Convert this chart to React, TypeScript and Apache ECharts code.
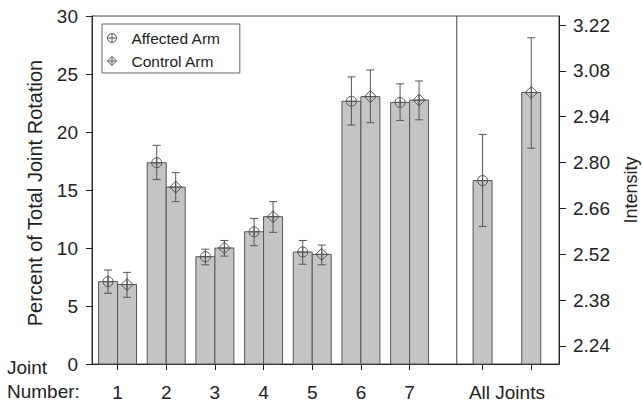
import React, { useEffect, useRef } from "react";
import * as echarts from "echarts";

// ---- data ----
const joints = ["1", "2", "3", "4", "5", "6", "7"];
const affectedMean = [7.1, 17.35, 9.25, 11.4, 9.65, 22.65, 22.55];
const affectedLow = [6.1, 15.9, 8.55, 10.2, 8.6, 20.6, 21.0];
const affectedHigh = [8.1, 18.85, 9.9, 12.55, 10.65, 24.75, 24.15];
const controlMean = [6.85, 15.25, 10.0, 12.7, 9.45, 23.05, 22.75];
const controlLow = [5.75, 14.0, 9.3, 11.35, 8.55, 20.8, 21.05];
const controlHigh = [7.9, 16.5, 10.65, 14.0, 10.25, 25.35, 24.4];

const allLabel = "All Joints";
const allAffected = [2.745, 2.605, 2.886]; // mean, low, high (Intensity)
const allControl = [3.014, 2.844, 3.181];

const leftTicks = [0, 5, 10, 15, 20, 25, 30];
const rightTicks = [2.24, 2.38, 2.52, 2.66, 2.8, 2.94, 3.08, 3.22];

const FONT = '"Liberation Sans", Arial, Helvetica, sans-serif';
const BAR_FILL = "#c4c4c4";
const EDGE = "#555";

const RIGHT_MIN = 2.185;
const RIGHT_MAX = 3.2475;
const BAR_W = 0.39;
const ALL_A_X = 8.5;
const ALL_C_X = 9.5;
const SEP_X = 7.97;

function makeRender(offset: number, marker: "circle" | "diamond", base: number) {
  return (params: any, api: any) => {
    const x = api.value(0) + offset;
    const v = api.value(1);
    const lo = api.value(2);
    const hi = api.value(3);
    const w = api.size([BAR_W, 0])[0];
    const top = api.coord([x, v]);
    const bot = api.coord([x, base]);
    const pLo = api.coord([x, lo]);
    const pHi = api.coord([x, hi]);
    const cx = top[0];
    const cy = top[1];
    const lineStyle = { stroke: EDGE, lineWidth: 1, fill: "none" };
    const children: any[] = [
      {
        type: "rect",
        shape: { x: cx - w / 2, y: cy, width: w, height: bot[1] - cy },
        style: { fill: BAR_FILL, stroke: EDGE, lineWidth: 1 },
      },
      { type: "line", shape: { x1: cx, y1: pLo[1], x2: cx, y2: pHi[1] }, style: lineStyle },
      { type: "line", shape: { x1: cx - 4, y1: pLo[1], x2: cx + 4, y2: pLo[1] }, style: lineStyle },
      { type: "line", shape: { x1: cx - 4, y1: pHi[1], x2: cx + 4, y2: pHi[1] }, style: lineStyle },
    ];
    if (marker === "circle") {
      children.push({ type: "circle", shape: { cx, cy, r: 5 }, style: lineStyle });
      children.push({ type: "line", shape: { x1: cx - 5, y1: cy, x2: cx + 5, y2: cy }, style: lineStyle });
      children.push({ type: "line", shape: { x1: cx, y1: cy - 5, x2: cx, y2: cy + 5 }, style: lineStyle });
    } else {
      children.push({
        type: "polygon",
        shape: { points: [[cx, cy - 6], [cx + 6, cy], [cx, cy + 6], [cx - 6, cy]] },
        style: lineStyle,
      });
      children.push({ type: "line", shape: { x1: cx - 6, y1: cy, x2: cx + 6, y2: cy }, style: lineStyle });
      children.push({ type: "line", shape: { x1: cx, y1: cy - 6, x2: cx, y2: cy + 6 }, style: lineStyle });
    }
    return { type: "group", children };
  };
}

const circleIcon =
  "path://M0,5 A5,5 0 1,1 10,5 A5,5 0 1,1 0,5 Z M5,0 L5,10 M0,5 L10,5";
const diamondIcon = "path://M5,0 L10,5 L5,10 L0,5 Z M5,0 L5,10 M0,5 L10,5";

export default function App() {
  const ref = useRef<HTMLDivElement>(null);
  useEffect(() => {
    if (!ref.current) return;
    const chart = echarts.init(ref.current, null, { renderer: "svg" });

    const affectedData = joints.map((j, i) => [i + 1, affectedMean[i], affectedLow[i], affectedHigh[i]]);
    const controlData = joints.map((j, i) => [i + 1, controlMean[i], controlLow[i], controlHigh[i]]);
    const jointPositions = joints.map((j, i) => i + 1);
    const tickPositions = [...jointPositions, ALL_A_X, ALL_C_X];
    const labelPositions = [...jointPositions, (ALL_A_X + ALL_C_X) / 2];

    const option: any = {
      animation: false,
      textStyle: { fontFamily: FONT, color: "#222" },
      grid: {
        left: 92,
        top: 16,
        right: 84,
        bottom: 39,
        show: true,
        borderColor: "#444",
        borderWidth: 1,
        containLabel: false,
        outerBoundsMode: "none",
      },
      legend: {
        orient: "vertical",
        left: 102,
        top: 24,
        padding: [5, 19, 3, 3],
        borderColor: "#666",
        borderWidth: 1,
        itemWidth: 9,
        itemHeight: 9,
        itemGap: 5,
        itemStyle: { color: "none", borderColor: EDGE, borderWidth: 1 },
        textStyle: { fontFamily: FONT, fontSize: 15.5, color: "#222", lineHeight: 18, padding: [0, 0, 0, 10] },
        data: [
          { name: "Affected Arm", icon: circleIcon },
          { name: "Control Arm", icon: diamondIcon },
        ],
      },
      xAxis: {
        type: "value",
        min: 0.475,
        max: 10.07,
        splitLine: { show: false },
        axisLine: { show: true, onZero: false, lineStyle: { color: "#222", width: 1 } },
        axisTick: { show: true, length: 6, customValues: tickPositions, lineStyle: { color: "#222" } },
        axisLabel: {
          customValues: labelPositions,
          fontSize: 19,
          color: "#222",
          margin: 19,
          fontFamily: FONT,
          formatter: (v: number) => (v > 7.5 ? allLabel : joints[Math.round(v) - 1]),
        },
      },
      yAxis: [
        {
          type: "value",
          position: "left",
          min: 0,
          max: 30,
          interval: 5,
          name: "Percent of Total Joint Rotation",
          nameLocation: "middle",
          nameRotate: 90,
          nameGap: 47,
          nameTextStyle: { fontSize: 20, color: "#222", fontFamily: FONT, padding: [0, 6, 0, 0] },
          splitLine: { show: false },
          axisLine: { show: true, lineStyle: { color: "#222", width: 1 } },
          axisTick: { show: true, length: 6, customValues: leftTicks, lineStyle: { color: "#222" } },
          axisLabel: { fontSize: 19, color: "#222", margin: 14, fontFamily: FONT, customValues: leftTicks },
        },
        {
          type: "value",
          position: "right",
          min: RIGHT_MIN,
          max: RIGHT_MAX,
          name: "Intensity",
          nameLocation: "middle",
          nameRotate: 90,
          nameGap: 63,
          nameTextStyle: { fontSize: 18, color: "#222", fontFamily: FONT },
          splitLine: { show: false },
          axisLine: { show: true, lineStyle: { color: "#222", width: 1 } },
          axisTick: { show: true, length: 7, customValues: rightTicks, lineStyle: { color: "#222" } },
          axisLabel: {
            fontSize: 19,
            color: "#222",
            margin: 14,
            fontFamily: FONT,
            customValues: rightTicks,
            formatter: (v: number) => v.toFixed(2),
          },
        },
      ],
      series: [
        {
          type: "line",
          name: "separator",
          yAxisIndex: 0,
          data: [[SEP_X, 0], [SEP_X, 30]],
          showSymbol: false,
          silent: true,
          lineStyle: { color: "#444", width: 1 },
          z: 1,
        },
        {
          type: "custom",
          name: "Affected Arm",
          yAxisIndex: 0,
          data: affectedData,
          encode: { x: 0, y: 1 },
          itemStyle: { color: BAR_FILL, borderColor: EDGE },
          renderItem: makeRender(-BAR_W / 2, "circle", 0),
          z: 2,
        },
        {
          type: "custom",
          name: "Control Arm",
          yAxisIndex: 0,
          data: controlData,
          encode: { x: 0, y: 1 },
          itemStyle: { color: BAR_FILL, borderColor: EDGE },
          renderItem: makeRender(BAR_W / 2, "diamond", 0),
          z: 2,
        },
        {
          type: "custom",
          name: "Affected Arm",
          yAxisIndex: 1,
          data: [[ALL_A_X, ...allAffected]],
          encode: { x: 0, y: 1 },
          itemStyle: { color: BAR_FILL, borderColor: EDGE },
          renderItem: makeRender(0, "circle", RIGHT_MIN),
          z: 2,
        },
        {
          type: "custom",
          name: "Control Arm",
          yAxisIndex: 1,
          data: [[ALL_C_X, ...allControl]],
          encode: { x: 0, y: 1 },
          itemStyle: { color: BAR_FILL, borderColor: EDGE },
          renderItem: makeRender(0, "diamond", RIGHT_MIN),
          z: 2,
        },
      ],
      graphic: [
        {
          type: "text",
          left: 7,
          top: 358,
          style: { text: "Joint", fontSize: 19, fill: "#222", fontFamily: FONT },
        },
        {
          type: "text",
          left: 7,
          top: 382,
          style: { text: "Number:", fontSize: 19, fill: "#222", fontFamily: FONT },
        },
      ],
    };
    chart.setOption(option);
    return () => chart.dispose();
  }, []);
  return <div ref={ref} style={{ width: 643, height: 403, position: "absolute", left: 0, top: 0 }} />;
}
